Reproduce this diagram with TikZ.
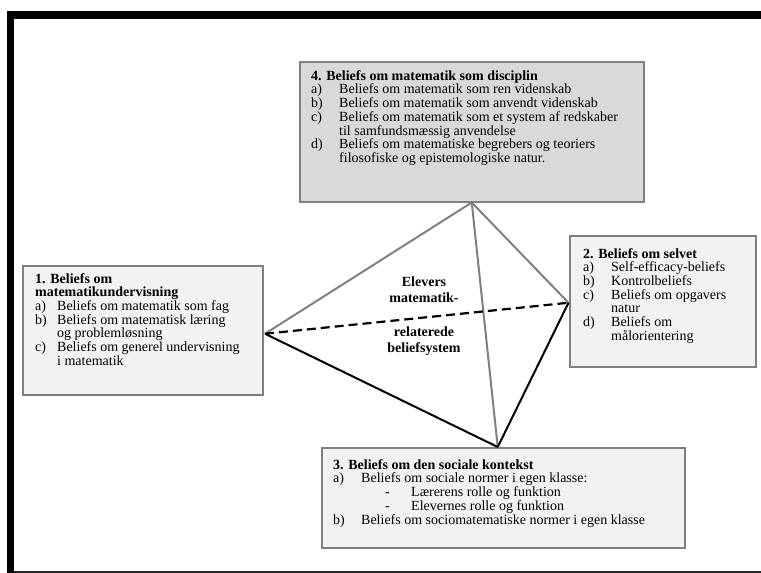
\documentclass[tikz,border=0pt]{standalone}
\usepackage{fontspec}
\setmainfont{Liberation Serif}
\usetikzlibrary{calc}
\definecolor{boxgray}{HTML}{F2F2F2}
\definecolor{topgray}{HTML}{D9D9D9}
\definecolor{linegray}{HTML}{7F7F7F}
\definecolor{edgegray}{HTML}{808080}
\newcommand\mybfont{\fontsize{14}{13}\selectfont}
\newcommand\mycfont{\fontsize{14}{16}\selectfont\bfseries}
\begin{document}
\begin{tikzpicture}[x=1pt,y=-1pt,
  panel/.style={draw=linegray, line width=1.5pt, fill=boxgray, anchor=north west, inner sep=0pt},
  toppanel/.style={panel, fill=topgray},
  panetext/.style={anchor=north west, inner sep=0pt, font=\mybfont},
  centertext/.style={inner sep=0pt, align=center, font=\mycfont},
  grayedge/.style={draw=edgegray, line width=2pt},
  blackedge/.style={draw=black, line width=2pt},
  dashedge/.style={draw=black, line width=2.2pt, dash pattern=on 9pt off 5pt}
]
\useasboundingbox (0,0) rectangle (761,573);
% frame
\fill[black] (7,11) rectangle (761,19);
\fill[black] (7,11) rectangle (14,573);
\fill[black!85] (14,571.3) rectangle (761,573);

% boxes
\node[toppanel, minimum width=344pt, minimum height=140pt] (b4) at (299,61) {};
\node[panel, minimum width=240pt, minimum height=129pt] (b1) at (22,265) {};
\node[panel, minimum width=186pt, minimum height=131pt] (b2) at (569,235) {};
\node[panel, minimum width=363pt, minimum height=100pt] (b3) at (321,447) {};

% vertices
\coordinate (vt) at (b4.south);
\coordinate (vl) at ($(b1.east)+(1.5,3.5)$);
\coordinate (vr) at ($(b2.west)+(-0.5,1.5)$);
\coordinate (vb) at ($(b3.north)+(-5.5,0)$);

% edges
\draw[grayedge] (vt) -- (vl);
\draw[grayedge] (vt) -- (vr);
\draw[grayedge] (vt) -- (vb);
\draw[dashedge] (vl) -- (vr);
\draw[blackedge] (vl) -- (vb);
\draw[blackedge] (vr) -- (vb);

% texts
\node[panetext] (t4) at ($(b4.north west)+(12,9)$) {%
\begin{tabular}{@{}p{28pt}@{}l@{}}
\multicolumn{2}{@{}l@{}}{\textbf{4. Beliefs om matematik som disciplin}}\\
a) & Beliefs om matematik som ren videnskab\\
b) & Beliefs om matematik som anvendt videnskab\\
c) & Beliefs om matematik som et system af redskaber\\
   & til samfundsmæssig anvendelse\\
d) & Beliefs om matematiske begrebers og teoriers\\
   & filosofiske og epistemologiske natur.
\end{tabular}};

\node[panetext] (t1) at ($(b1.north west)+(13,8)$) {%
\begin{tabular}{@{}p{22pt}@{}l@{}}
\multicolumn{2}{@{}l@{}}{\textbf{1. Beliefs om}}\\
\multicolumn{2}{@{}l@{}}{\textbf{matematikundervisning}}\\
a) & Beliefs om matematik som fag\\
b) & Beliefs om matematisk læring\\
   & og problemløsning\\
c) & Beliefs om generel undervisning\\
   & i matematik
\end{tabular}};

\node[panetext] (t2) at ($(b2.north west)+(14,13)$) {%
\begin{tabular}{@{}p{28pt}@{}l@{}}
\multicolumn{2}{@{}l@{}}{\textbf{2. Beliefs om selvet}}\\
a) & Self-efficacy-beliefs\\
b) & Kontrolbeliefs\\
c) & Beliefs om opgavers\\
   & natur\\
d) & Beliefs om\\
   & målorientering
\end{tabular}};

\node[panetext] (t3) at ($(b3.north west)+(12,12)$) {%
\begin{tabular}{@{}p{28pt}@{}l@{}}
\multicolumn{2}{@{}l@{}}{\textbf{3. Beliefs om den sociale kontekst}}\\
a) & Beliefs om sociale normer i egen klasse:\\
   & \hspace*{24pt}\makebox[26pt][l]{-}Lærerens rolle og funktion\\
   & \hspace*{24pt}\makebox[26pt][l]{-}Elevernes rolle og funktion\\
b) & Beliefs om sociomatematiske normer i egen klasse
\end{tabular}};

\node[centertext] (c1) at (424,290) {Elevers\\matematik-};
\node[centertext] (c2) at (424,341) {relaterede\\beliefsystem};
\end{tikzpicture}
\end{document}
